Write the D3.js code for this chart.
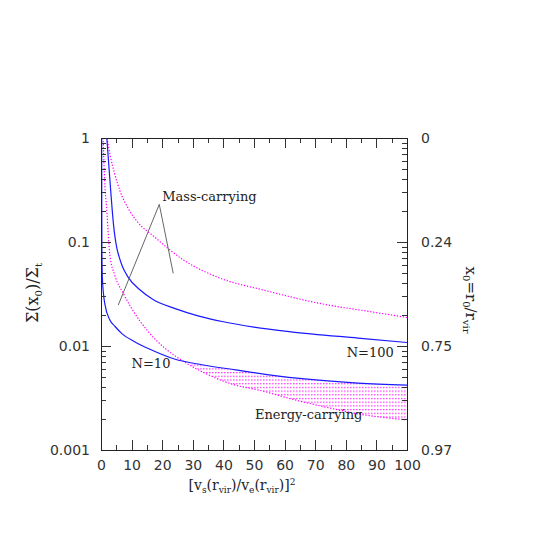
<!DOCTYPE html>
<html>
<head>
<meta charset="utf-8">
<script src="https://cdn.jsdelivr.net/npm/d3@7"></script>
<style>
  body { margin: 0; background: #fff; }
  .axis path { display: none; }
  .axis line { stroke: #333; shape-rendering: crispEdges; }
  .axis text { font-family: "DejaVu Sans", sans-serif; font-size: 14px; fill: #333; }
  .lbl { font-family: "DejaVu Serif", serif; font-size: 13px; fill: #222; }
  .title { font-family: "DejaVu Serif", serif; fill: #222; }
</style>
</head>
<body>
<svg id="chart" width="545" height="545"></svg>
<script>
// tick values and labels
let xTicks = [0, 10, 20, 30, 40, 50, 60, 70, 80, 90, 100];
let yTicks = [1, 0.1, 0.01, 0.001];
let yTickLabels = ["1", "0.1", "0.01", "0.001"];
let rightTickLabels = ["0", "0.24", "0.75", "0.97"];

// N=10 (solid blue)
let n10X = [0.2, 0.25, 0.3, 0.45, 0.8, 1.3, 2.9, 4.6, 7, 11, 16, 24, 33, 44, 64, 84, 100];
let n10Y = [1, 0.2, 0.08, 0.045, 0.032, 0.025, 0.0178, 0.0154, 0.013, 0.011, 0.0093, 0.0075, 0.0066, 0.0059, 0.0049, 0.0044, 0.0042];

// N=100 (solid blue)
let n100X = [1.9, 2.3, 2.7, 3.1, 3.6, 4.1, 4.6, 5.2, 5.9, 7, 8.9, 12.7, 17, 24, 32, 40, 50, 62, 84, 100];
let n100Y = [1, 0.692, 0.479, 0.331, 0.214, 0.146, 0.11, 0.087, 0.0724, 0.0582, 0.0457, 0.0347, 0.028, 0.023, 0.0194, 0.0171, 0.0152, 0.0137, 0.0119, 0.0108];

// mass-carrying, upper dotted
let massX = [2.0, 3, 4.5, 6.2, 8.9, 12, 17, 27, 38, 54, 72, 88, 100];
let massY = [1, 0.68, 0.45, 0.31, 0.21, 0.155, 0.115, 0.067, 0.046, 0.034, 0.0255, 0.0214, 0.0188];

// mass-carrying, lower dotted (bottom edge of energy-carrying band)
let energyX = [0.7, 1.1, 1.9, 2.9, 4.5, 7.3, 10, 15.5, 21.5, 27, 35, 44, 51, 64, 73, 85, 100];
let energyY = [1, 0.45, 0.2, 0.075, 0.048, 0.032, 0.023, 0.0137, 0.0092, 0.0071, 0.0053, 0.0042, 0.0038, 0.003, 0.0026, 0.0022, 0.00195];

// band starts where the lower dotted curve crosses N=10
let bandStart = 27;

// pointer lines for the Mass-carrying label
let pointerX = [5.65, 19.05, 23.6];
let pointerY = [0.0248, 0.23, 0.05];

let svg = d3.select("#chart"),
    margin = {top: 138, left: 101},
    width = 306,
    height = 312;

let x = d3.scaleLinear().domain([0, 100]).range([0, width]);
let y = d3.scaleLog().domain([0.001, 1]).range([height, 0]);

function zip(xs, ys) {
    return xs.map(function(v, i) { return {x: v, y: ys[i]}; });
}

let line = d3.line()
    .x(function(d) { return x(d.x); })
    .y(function(d) { return y(d.y); })
    .curve(d3.curveMonotoneX);

let defs = svg.append("defs");
defs.append("clipPath")
    .attr("id", "clip")
    .append("rect")
    .attr("width", width)
    .attr("height", height);

let pat = defs.append("pattern")
    .attr("id", "hatch")
    .attr("patternUnits", "userSpaceOnUse")
    .attr("width", 3)
    .attr("height", 3.7);
pat.append("rect")
    .attr("x", 0).attr("y", 1)
    .attr("width", 1.6).attr("height", 1.1)
    .attr("fill", "#ff33ff");

let g = svg.append("g")
    .attr("transform", "translate(" + margin.left + "," + margin.top + ")");

let plot = g.append("g").attr("clip-path", "url(#clip)");

// hatched energy-carrying band
let bandTop = zip(n10X, n10Y).filter(function(d) { return d.x > bandStart; });
let bandBottom = zip(energyX, energyY).filter(function(d) { return d.x >= bandStart; });
bandTop.unshift(bandBottom[0]);
let bandPath = line(bandTop) + "L" + line(bandBottom.slice().reverse()).slice(1) + "Z";
plot.append("path")
    .attr("d", bandPath)
    .attr("fill", "url(#hatch)")
    .attr("stroke", "none");

// dotted magenta curves
[zip(massX, massY), zip(energyX, energyY)].forEach(function(data) {
    plot.append("path")
        .datum(data)
        .attr("fill", "none")
        .attr("stroke", "#ff00ff")
        .attr("stroke-width", 1.2)
        .attr("stroke-dasharray", "1.3,1.7")
        .attr("d", line);
});

// solid blue curves
[zip(n10X, n10Y), zip(n100X, n100Y)].forEach(function(data) {
    plot.append("path")
        .datum(data)
        .attr("fill", "none")
        .attr("stroke", "#1a1aff")
        .attr("stroke-width", 1.2)
        .attr("d", line);
});

// pointer lines
g.append("path")
    .datum(zip(pointerX, pointerY))
    .attr("fill", "none")
    .attr("stroke", "#666")
    .attr("stroke-width", 1)
    .attr("d", d3.line().x(function(d) { return x(d.x); }).y(function(d) { return y(d.y); }));

// axes
let xMinor = x.ticks(20).filter(function(d) { return xTicks.indexOf(d) < 0; });
let yMinor = y.ticks().filter(function(d) { return yTicks.indexOf(d) < 0; });

g.append("g").attr("class", "axis")
    .attr("transform", "translate(0," + height + ")")
    .call(d3.axisBottom(x).tickValues(xTicks).tickSize(-10).tickPadding(10));
g.append("g").attr("class", "axis")
    .attr("transform", "translate(0," + height + ")")
    .call(d3.axisBottom(x).tickValues(xMinor).tickSize(-5).tickFormat(""));
g.append("g").attr("class", "axis")
    .call(d3.axisTop(x).tickValues(xTicks).tickSize(-10).tickFormat(""));
g.append("g").attr("class", "axis")
    .call(d3.axisTop(x).tickValues(xMinor).tickSize(-5).tickFormat(""));

g.append("g").attr("class", "axis")
    .call(d3.axisLeft(y).tickValues(yTicks).tickSize(-10).tickPadding(11)
        .tickFormat(function(d, i) { return yTickLabels[i]; }));
g.append("g").attr("class", "axis")
    .call(d3.axisLeft(y).tickValues(yMinor).tickSize(-5).tickFormat(""));
g.append("g").attr("class", "axis")
    .attr("transform", "translate(" + width + ",0)")
    .call(d3.axisRight(y).tickValues(yTicks).tickSize(-10).tickPadding(14)
        .tickFormat(function(d, i) { return rightTickLabels[i]; }));
g.append("g").attr("class", "axis")
    .attr("transform", "translate(" + width + ",0)")
    .call(d3.axisRight(y).tickValues(yMinor).tickSize(-5).tickFormat(""));

// frame
g.append("rect")
    .attr("width", width)
    .attr("height", height)
    .attr("fill", "none")
    .attr("stroke", "#222")
    .attr("stroke-width", 1)
    .attr("shape-rendering", "crispEdges");

// in-plot labels
g.append("text").attr("class", "lbl").attr("x", x(20)).attr("y", y(0.248)).text("Mass-carrying");
g.append("text").attr("class", "lbl").attr("x", x(80.3)).attr("y", y(0.00778)).text("N=100");
g.append("text").attr("class", "lbl").attr("x", x(10)).attr("y", y(0.00618)).text("N=10");
g.append("text").attr("class", "lbl").attr("x", x(50.3)).attr("y", y(0.00197)).text("Energy-carrying");

// x title
let xt = svg.append("text").attr("class", "title")
    .attr("x", 242).attr("y", 490)
    .attr("text-anchor", "middle")
    .style("font-size", "14px");
xt.append("tspan").text("[v");
xt.append("tspan").attr("dy", 3).style("font-size", "9px").text("s");
xt.append("tspan").attr("dy", -3).text("(r");
xt.append("tspan").attr("dy", 3).style("font-size", "9px").text("vir");
xt.append("tspan").attr("dy", -3).text(")/v");
xt.append("tspan").attr("dy", 3).style("font-size", "9px").text("e");
xt.append("tspan").attr("dy", -3).text("(r");
xt.append("tspan").attr("dy", 3).style("font-size", "9px").text("vir");
xt.append("tspan").attr("dy", -3).text(")]");
xt.append("tspan").attr("dy", -5).style("font-size", "9px").text("2");

// left title
let yt = svg.append("text").attr("class", "title")
    .attr("transform", "translate(38,293) rotate(-90)")
    .attr("text-anchor", "middle")
    .style("font-size", "16px");
yt.append("tspan").text("\u03A3(x");
yt.append("tspan").attr("dy", 4).style("font-size", "10px").text("0");
yt.append("tspan").attr("dy", -4).text(")/\u03A3");
yt.append("tspan").attr("dy", 4).style("font-size", "10px").text("t");

// right title
let rt = svg.append("text").attr("class", "title")
    .attr("transform", "translate(466,300) rotate(90)")
    .attr("text-anchor", "middle")
    .style("font-size", "15px");
rt.append("tspan").text("x");
rt.append("tspan").attr("dy", 3).style("font-size", "10px").text("0");
rt.append("tspan").attr("dy", -3).text("=r");
rt.append("tspan").attr("dy", 3).style("font-size", "10px").text("0");
rt.append("tspan").attr("dy", -3).text("/r");
rt.append("tspan").attr("dy", 3).style("font-size", "10px").text("vir");
</script>
</body>
</html>
